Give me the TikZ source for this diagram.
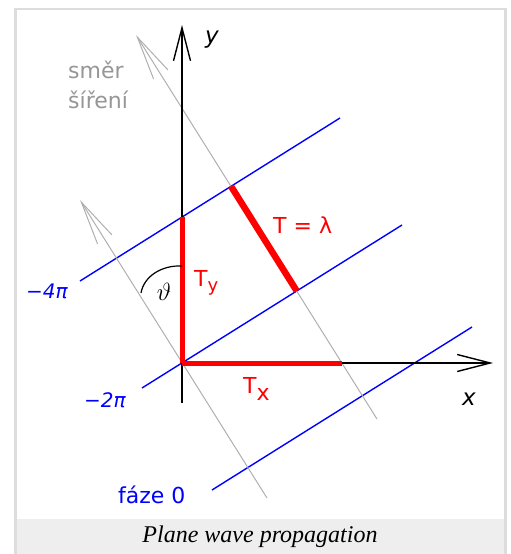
\documentclass[tikz,border=0pt]{standalone}
\usepackage{fontspec}
\setmainfont{DejaVu Sans}
\newfontfamily\captionserif{Liberation Serif}
\usepackage{amsmath}
\definecolor{wavefront}{RGB}{0, 0, 255}
\definecolor{periodred}{RGB}{255, 0, 0}
\definecolor{raygray}{RGB}{175, 175, 175}
\definecolor{labelgray}{RGB}{150, 150, 150}
\definecolor{framegray}{RGB}{221, 221, 221}
\definecolor{bandgray}{RGB}{238, 238, 238}
\usetikzlibrary{arrows.meta}

\begin{document}
\begin{tikzpicture}[x=1pt, y=-1pt,
    txt/.style={inner sep=0pt, font=\fontsize{22}{26}\selectfont},
    wave/.style={wavefront, line width=1.4pt},
    ray/.style={raygray, line width=1pt, -{Straight Barb[length=44pt, width=17pt]}},
    axis/.style={black, line width=1.4pt, -{Straight Barb[length=33pt, width=17pt]}},
    tperiod/.style={periodred, line width=5pt}]
    \useasboundingbox (0,0) rectangle (511,554);

    % Frame and caption band
    \fill[bandgray] (17,519) rectangle (504,554);
    \draw[framegray, line width=2.5pt] (15.5,9) rectangle (505.5,560);
    \node[inner sep=0pt, font=\captionserif\itshape\fontsize{24}{28}\selectfont] (caption) at (260,537) {Plane wave propagation};

    % Points
    \coordinate (O) at (182,363);
    \coordinate (Ybot) at (182,403);
    \coordinate (Ytip) at (182,25);
    \coordinate (Xtip) at (493,363);
    \coordinate (Ty) at (182,217);
    \coordinate (Tx) at (342,363);
    \coordinate (L1) at (231,186.2);
    \coordinate (L2) at (296.7,290.9);

    % Wave fronts
    \coordinate (W4a) at (80,281);
    \coordinate (W4b) at (340,118);
    \coordinate (W2a) at (142,388);
    \coordinate (W2b) at (402,225);
    \coordinate (W0a) at (212,490);
    \coordinate (W0b) at (472,327);
    \draw[wave] (W4a) -- (W4b);
    \draw[wave] (W2a) -- (W2b);
    \draw[wave] (W0a) -- (W0b);

    % Propagation rays
    \coordinate (S1a) at (377,419);
    \coordinate (S1b) at (136,35);
    \coordinate (S2a) at (267,498);
    \coordinate (S2b) at (80,200);
    \draw[ray] (S1a) -- (S1b);
    \draw[ray] (S2a) -- (S2b);

    % Axes
    \draw[axis] (Ybot) -- (Ytip);
    \draw[axis] (O) -- (Xtip);

    % Periods
    \draw[tperiod] (O) -- (Ty);
    \draw[tperiod] (O) -- (Tx);
    \draw[tperiod, line width=6.5pt] (L1) -- (L2);

    % Angle
    \coordinate (A1) at (182,266);
    \coordinate (A2) at (141,293);
    \draw[black, line width=1.2pt] (A1) .. controls (162,265) and (144,276) .. (A2);
    \node[inner sep=0pt, font=\fontsize{25}{28}\selectfont] (theta) at (164,292) {$\vartheta$};

    % Labels
    \node[txt, anchor=base west, font=\fontsize{23}{26}\selectfont\itshape] (ylab) at (205,43) {y};
    \node[txt, anchor=base west, font=\fontsize{23}{26}\selectfont\itshape] (xlab) at (462,405) {x};
    \node[txt, labelgray, anchor=base west] (dir1) at (68,78) {směr};
    \node[txt, labelgray, anchor=base west] (dir2) at (68,108) {šíření};
    \node[txt, periodred, anchor=base west] (lam) at (273,233) {T = λ};
    \node[txt, periodred, anchor=base west] (tylab) at (194,286) {T\raisebox{-5pt}{\fontsize{18}{18}\selectfont y}};
    \node[txt, periodred, anchor=base west] (txlab) at (243,393) {T\raisebox{-7pt}{x}};
    \node[txt, wavefront, anchor=base west, font=\fontsize{20}{22}\selectfont\itshape] (m4) at (26,298) {−4π};
    \node[txt, wavefront, anchor=base west, font=\fontsize{20}{22}\selectfont\itshape] (m2) at (84,407) {−2π};
    \node[txt, wavefront, anchor=base west] (f0) at (118,503) {fáze 0};
\end{tikzpicture}
\end{document}
